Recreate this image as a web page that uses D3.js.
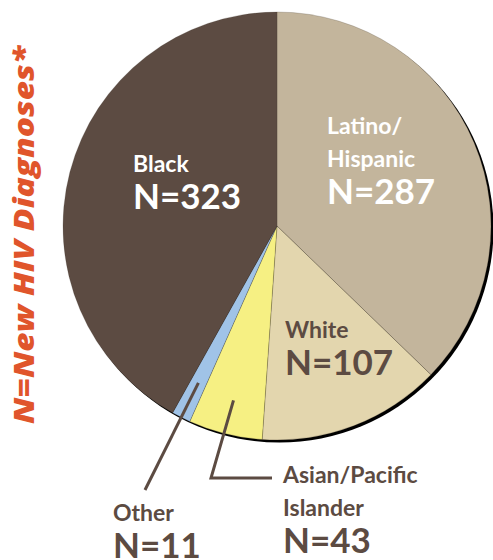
<!DOCTYPE html>
<html>
<head>
<meta charset="utf-8">
<script src="https://cdn.jsdelivr.net/npm/d3@7"></script>
<style>
  html, body { margin: 0; padding: 0; background: #fff; }
  svg { display: block; }
  text { font-family: Lato, "Open Sans", sans-serif; font-weight: 700; }
</style>
</head>
<body>
<svg id="chart" width="493" height="560"></svg>
<script>
// New HIV diagnoses by race/ethnicity, clockwise from 12 o'clock
const groups = ["Latino/Hispanic", "White", "Asian/Pacific Islander", "Other", "Black"];
const diagnoses = [287, 107, 43, 11, 323];
const sliceColors = ["#c3b59c", "#e3d6ae", "#f6f083", "#a0c3e7", "#5c4b42"];
const labelLines = [["Latino/", "Hispanic"], ["White"], ["Asian/Pacific", "Islander"], ["Other"], ["Black"]];
const titleText = "N=New HIV Diagnoses*";

const svg = d3.select("#chart");
const cx = 277, cy = 226, r = 214;
const brown = "#5c4b42";

const pie = d3.pie().sort(null).value(d => d).startAngle(0).endAngle(2 * Math.PI);
const arcs = pie(diagnoses);
const arc = d3.arc().innerRadius(0).outerRadius(r);

const g = svg.append("g").attr("transform", `translate(${cx},${cy})`);

// drop shadow behind the pie
g.append("circle").attr("cx", 2.5).attr("cy", 2.5).attr("r", r).attr("fill", "#000");

g.selectAll("path.slice")
  .data(arcs)
  .join("path")
  .attr("class", "slice")
  .attr("d", arc)
  .attr("fill", (d, i) => sliceColors[i])
  .attr("stroke", "rgba(60,50,40,0.35)")
  .attr("stroke-width", 0.6);

// label placement per slice (relative to page)
const labelPos = [
  { x: 327, y: 134, color: "#fff" },
  { x: 285, y: 338, color: brown },
  { x: 283, y: 483, color: brown },
  { x: 113, y: 521, color: brown },
  { x: 133, y: 172, color: "#fff" }
];

arcs.forEach((d, i) => {
  const p = labelPos[i];
  const t = svg.append("text").attr("fill", p.color);
  labelLines[i].forEach((line, k) => {
    t.append("tspan").attr("x", p.x).attr("y", p.y + k * 33)
      .attr("font-size", 23).text(line);
  });
  const nLines = labelLines[i].length;
  t.append("tspan").attr("x", p.x).attr("y", p.y + (nLines - 1) * 33 + 37)
    .attr("font-size", 35).text("N=" + d.data);
});

// leader lines for the small slices, anchored at points inside each slice
function inside(d, frac) {
  const a = (d.startAngle + d.endAngle) / 2;
  return [cx + Math.sin(a) * r * frac, cy - Math.cos(a) * r * frac];
}
const leader = svg.append("g").attr("stroke", brown).attr("stroke-width", 3).attr("fill", "none");
const pA = inside(arcs[2], 0.84);
leader.append("polyline")
  .attr("points", [pA, [211, 478], [272, 478]].map(p => p.join(",")).join(" "));
const pO = inside(arcs[3], 0.82);
leader.append("line")
  .attr("x1", pO[0]).attr("y1", pO[1]).attr("x2", 145).attr("y2", 490);

// vertical title
svg.append("text")
  .attr("transform", "translate(34,235) rotate(-90)")
  .attr("text-anchor", "middle")
  .attr("fill", "#e0552b")
  .style("font-family", "'Open Sans', sans-serif")
  .style("font-weight", 800)
  .style("font-style", "italic")
  .attr("font-size", 29)
  .attr("textLength", 378)
  .attr("lengthAdjust", "spacingAndGlyphs")
  .text(titleText);
</script>
</body>
</html>
